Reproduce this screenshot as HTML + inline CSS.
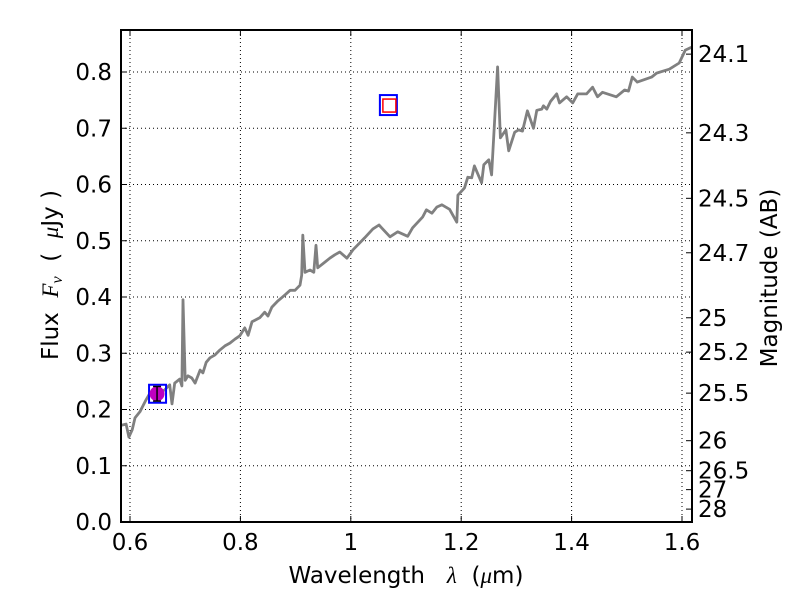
<!DOCTYPE html>
<html><head><meta charset="utf-8"><style>
html,body{margin:0;padding:0;background:#fff;width:800px;height:600px;overflow:hidden}
svg{font-family:"DejaVu Sans","Liberation Sans",sans-serif}
</style></head><body>
<svg id="chart" width="800" height="600" viewBox="0 0 800 600" xmlns="http://www.w3.org/2000/svg"></svg>
<script>
const wavelengths=[0.584,0.593,0.598,0.604,0.609,0.618,0.629,0.636,0.647,0.663,0.672,0.676,0.681,0.690,0.694,0.696,0.700,0.705,0.712,0.718,0.727,0.732,0.738,0.745,0.754,0.763,0.772,0.781,0.790,0.799,0.808,0.814,0.821,0.835,0.844,0.850,0.857,0.868,0.881,0.890,0.899,0.908,0.911,0.913,0.917,0.926,0.933,0.937,0.940,0.953,0.962,0.971,0.980,0.993,1.004,1.025,1.040,1.051,1.071,1.085,1.103,1.112,1.130,1.137,1.147,1.156,1.165,1.179,1.192,1.194,1.206,1.212,1.219,1.224,1.237,1.241,1.250,1.255,1.266,1.271,1.281,1.286,1.297,1.304,1.311,1.320,1.331,1.337,1.346,1.349,1.355,1.362,1.373,1.378,1.391,1.402,1.411,1.427,1.438,1.447,1.456,1.481,1.496,1.503,1.510,1.519,1.545,1.554,1.577,1.595,1.606,1.617];
const fluxes=[0.172,0.174,0.151,0.164,0.185,0.196,0.217,0.229,0.226,0.235,0.244,0.210,0.247,0.254,0.242,0.395,0.252,0.260,0.256,0.247,0.270,0.265,0.284,0.292,0.297,0.306,0.313,0.318,0.325,0.331,0.345,0.332,0.356,0.363,0.373,0.366,0.382,0.393,0.404,0.412,0.412,0.421,0.439,0.510,0.444,0.448,0.444,0.492,0.452,0.462,0.469,0.475,0.480,0.469,0.484,0.505,0.521,0.528,0.507,0.516,0.508,0.523,0.542,0.555,0.549,0.560,0.564,0.556,0.533,0.581,0.594,0.613,0.612,0.633,0.603,0.635,0.644,0.617,0.809,0.683,0.697,0.660,0.693,0.697,0.695,0.731,0.700,0.732,0.734,0.740,0.734,0.748,0.761,0.745,0.756,0.745,0.761,0.761,0.773,0.756,0.764,0.756,0.768,0.766,0.791,0.782,0.791,0.798,0.805,0.816,0.839,0.844];
const photWave=[0.649,1.069];
const photFlux=[0.228,0.743];
const photErr=[0.013,0];
const xTicks=[0.6,0.8,1.0,1.2,1.4,1.6];
const xTickLabels=["0.6","0.8","1","1.2","1.4","1.6"];
const yTicks=[0,0.1,0.2,0.3,0.4,0.5,0.6,0.7,0.8];
const yTickLabels=["0.0","0.1","0.2","0.3","0.4","0.5","0.6","0.7","0.8"];
const magTicks=[24.1,24.3,24.5,24.7,25,25.2,25.5,26,26.5,27,28];
const magTickLabels=["24.1","24.3","24.5","24.7","25","25.2","25.5","26","26.5","27","28"];

const L=121,R=692,T=30,B=522;
const X0=0.6,X1=1.6,PX0=130,PX1=682;
function xs(v){return PX0+(v-X0)/(X1-X0)*(PX1-PX0);}
function ys(v){return 522-v*562.5;}
const NS="http://www.w3.org/2000/svg";
const svg=document.getElementById('chart');
function el(tag,attrs,parent){const e=document.createElementNS(NS,tag);for(const k in attrs)e.setAttribute(k,attrs[k]);(parent||svg).appendChild(e);return e;}

const grid=el('g',{});


xTicks.forEach(t=>{const l=el('line',{x1:xs(t),x2:xs(t),y1:T,y2:B,stroke:'#000','stroke-width':1,'stroke-dasharray':'1,3'},grid);

});
yTicks.forEach(t=>{const l=el('line',{x1:L,x2:R,y1:ys(t),y2:ys(t),stroke:'#000','stroke-width':1,'stroke-dasharray':'1,3'},grid);

});

const pts=wavelengths.map((w,i)=>xs(w).toFixed(1)+','+ys(fluxes[i]).toFixed(1)).join(' ');
const clip=el('clipPath',{id:'pc'});el('rect',{x:L,y:T,width:R-L,height:B-T},clip);
const line=el('polyline',{points:pts,fill:'none',stroke:'#808080','stroke-width':2.8,'stroke-linejoin':'round','clip-path':'url(#pc)'});



{const x=xs(photWave[0]),y=ys(photFlux[0]);
const g=el('g',{});


el('rect',{x:x-8,y:y-9,width:17,height:18,fill:'none',stroke:'#0000ff','stroke-width':2},g);
el('circle',{cx:x,cy:y,r:7.5,fill:'#bf00bf'},g);
const e0=ys(photFlux[0]-photErr[0]),e1=ys(photFlux[0]+photErr[0]);
el('line',{x1:x,x2:x,y1:e0,y2:e1,stroke:'#000','stroke-width':1.5},g);
el('line',{x1:x-4,x2:x+4,y1:e0,y2:e0,stroke:'#000','stroke-width':1.5},g);
el('line',{x1:x-4,x2:x+4,y1:e1,y2:e1,stroke:'#000','stroke-width':1.5},g);}
{const x=xs(photWave[1]),y=ys(photFlux[1]);
const g=el('g',{});


el('rect',{x:x-9,y:y-9,width:17,height:20,fill:'none',stroke:'#0000ff','stroke-width':2},g);
el('rect',{x:x-6,y:y-5,width:13,height:13,fill:'none',stroke:'#ff0000','stroke-width':1.5},g);}

const frame=el('rect',{x:L,y:T,width:R-L,height:B-T,fill:'none',stroke:'#000','stroke-width':2});



xTicks.forEach((t,i)=>{const x=xs(t);
el('line',{x1:x,x2:x,y1:B,y2:B-6,stroke:'#000'});el('line',{x1:x,x2:x,y1:T,y2:T+6,stroke:'#000'});
const tx=el('text',{x:x,y:B+28,'text-anchor':'middle','font-size':23});tx.textContent=xTickLabels[i];

});
yTicks.forEach((t,i)=>{const y=ys(t);
el('line',{x1:L,x2:L+6,y1:y,y2:y,stroke:'#000'});
const tx=el('text',{x:L-9,y:y+8,'text-anchor':'end','font-size':23});tx.textContent=yTickLabels[i];

});
magTicks.forEach((m,i)=>{const f=Math.pow(10,(23.9-m)/2.5);const y=ys(f);
el('line',{x1:R,x2:R-6,y1:y,y2:y,stroke:'#000'});
const tx=el('text',{x:R+6,y:y+8,'font-size':23});tx.textContent=magTickLabels[i];

});
</script>
<svg style="position:absolute;left:0;top:0" width="800" height="600">
<text x="406" y="583" text-anchor="middle" font-size="23" font-family="DejaVu Sans, Liberation Sans, sans-serif" xml:space="preserve">Wavelength   <tspan font-style="italic" font-family="Liberation Serif, serif">λ</tspan>  (<tspan font-style="italic" font-family="Liberation Serif, serif">μ</tspan>m)</text>
<text transform="translate(58,275) rotate(-90)" text-anchor="middle" font-size="23" font-family="DejaVu Sans, Liberation Sans, sans-serif" xml:space="preserve">Flux  <tspan font-style="italic" font-family="Liberation Serif, serif">F</tspan><tspan font-style="italic" font-family="Liberation Serif, serif" font-size="16" dy="4">ν</tspan><tspan dy="-4">  (  </tspan><tspan font-style="italic" font-family="Liberation Serif, serif">μ</tspan>Jy )</text>
<text transform="translate(777,278) rotate(-90)" text-anchor="middle" font-size="23" font-family="DejaVu Sans, Liberation Sans, sans-serif">Magnitude (AB)</text>
</svg>
</body></html>
